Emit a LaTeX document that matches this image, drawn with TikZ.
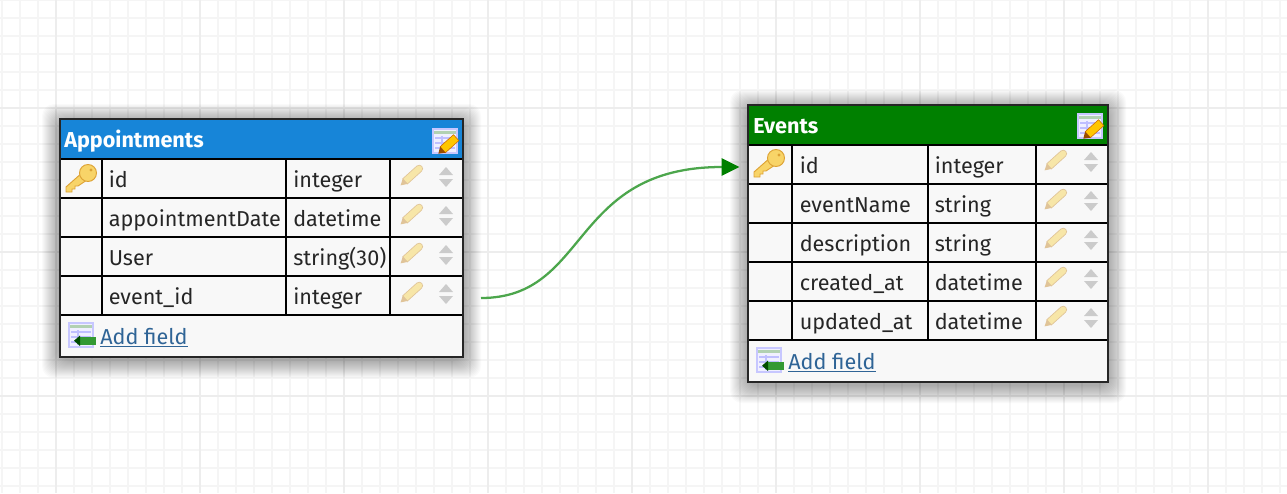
\documentclass[tikz,border=0pt]{standalone}
\usepackage{fontspec}
\setmainfont{Fira Sans}
\usetikzlibrary{arrows.meta}
\definecolor{minorgrid}{HTML}{F5F5F5}
\definecolor{majorgrid}{HTML}{EDEDED}
\definecolor{rowfill}{HTML}{F8F8F8}
\definecolor{apptblue}{HTML}{1785D8}
\definecolor{eventgreen}{HTML}{008000}
\definecolor{linkblue}{HTML}{2F6496}
\definecolor{keygold}{HTML}{F8D468}
\definecolor{keyedge}{HTML}{DDA235}
\definecolor{pencilfill}{HTML}{F7E6A8}
\definecolor{pencilwood}{HTML}{E0C498}
\definecolor{sortgrey}{HTML}{CBCBCB}
\tikzset{
  fieldtext/.style={anchor=base west, inner sep=0pt, font=\fontsize{16.2}{18}\selectfont, text=black!85},
  titletext/.style={anchor=base west, inner sep=0pt, font=\fontsize{16.2}{18}\selectfont\bfseries, text=white},
  addtext/.style={anchor=base west, inner sep=0pt, font=\fontsize{16.2}{18}\selectfont, text=linkblue},
  relation/.style={draw=eventgreen!70, line width=1.7pt, -{Triangle[length=13.5pt,width=13pt,fill=eventgreen,color=eventgreen]}},
  pics/keyicon/.style={code={
    \fill[keygold, draw=keyedge, line width=0.7pt] (2,-7) -- (-15,8) -- (-15,13) -- (-9,13) -- (-9,10) -- (-6,10) -- (-6,7) -- (-3,7) -- (6,1) -- cycle;
    \fill[keygold, draw=keyedge, line width=0.7pt] (7,-6) circle (8.5);
    \fill[keyedge] (10,-9) circle (1.6);
  }},
  pics/pencilicon/.style={code={
    \begin{scope}[rotate=42]
    \fill[pencilfill, draw=pencilwood, line width=0.5pt] (-8,-3.5) -- (11,-3.5) arc[start angle=-90, end angle=90, radius=3.5] -- (-8,3.5) -- cycle;
    \fill[pencilwood] (-8,-3.5) -- (-14,0) -- (-8,3.5) -- cycle;
    \end{scope}
  }},
  pics/sorticon/.style={code={
    \fill[sortgrey] (-7,-2) -- (0,-10) -- (7,-2) -- cycle;
    \fill[sortgrey] (-7,2) -- (0,10) -- (7,2) -- cycle;
  }},
  pics/sheeticon/.style={code={
    \fill[blue!6, draw=blue!22, line width=0.8pt] (-12,-12) rectangle (12,12);
    \fill[green!40!black!30] (-11,-10) rectangle (11,-7.5);
    \foreach \yy in {-3,2,7} \draw[blue!25, line width=1.2pt] (-10,\yy) -- (10,\yy);
    \draw[blue!25, line width=1.2pt] (-3,-5) -- (-3,10);
  }},
  pics/editicon/.style={code={
    \pic {sheeticon};
    \begin{scope}[shift={(3,4)}, rotate=42]
    \fill[orange!45!yellow, draw=orange!80!black, line width=0.4pt] (-7,-4) -- (11,-4) -- (11,4) -- (-7,4) -- cycle;
    \fill[orange!60!black] (-7,-4) -- (-13,0) -- (-7,4) -- cycle;
    \end{scope}
  }},
  pics/addicon/.style={code={
    \pic {sheeticon};
    \fill[green!50!black!80] (-2,2) rectangle (15,9.5);
    \fill[green!30!black] (-7,5.7) -- (-1,0.5) -- (-1,11) -- cycle;
  }},
}
\begin{document}
\begin{tikzpicture}[x=0.75pt, y=-0.75pt]
\useasboundingbox (0,0) rectangle (1287,493);
\fill[white] (0,0) rectangle (1287,493);
% background grid
\foreach \gx in {2,20,...,1286} \draw[minorgrid, line width=1.5pt] (\gx,0) -- (\gx,493);
\foreach \gy in {0,18,...,492} \draw[minorgrid, line width=1.5pt] (0,\gy) -- (1287,\gy);
\foreach \gx in {56,200,...,1286} \draw[majorgrid, line width=1.5pt] (\gx,0) -- (\gx,493);
\foreach \gy in {108,252,396} \draw[majorgrid, line width=1.5pt] (0,\gy) -- (1287,\gy);
% shadows
\foreach \sd in {1,2,...,18} {
  \fill[black, opacity=0.018, rounded corners=9pt] (60-\sd,119-\sd+3) rectangle (463+\sd,357+\sd+3);
  \fill[black, opacity=0.018, rounded corners=9pt] (748-\sd,105-\sd+3) rectangle (1108+\sd,382+\sd+3);
}
% Appointments
\fill[rowfill] (60,119) rectangle (463,357);
\fill[apptblue] (60,119) rectangle (463,158);
\draw[black, line width=1.5pt] (60,158.5) -- (463,158.5) (60,197.5) -- (463,197.5) (60,236.5) -- (463,236.5) (60,275.5) -- (463,275.5) (60,314.5) -- (463,314.5);
\draw[black, line width=1.5pt] (102,158) -- (102,314.5) (286,158) -- (286,314.5) (390,158) -- (390,314.5);
\draw[black!85, line width=0.8pt] (60,119) rectangle (463,357);
\node[titletext] (apptTitle) at (64,147) {Appointments};
\pic at (445,141) {editicon};
\pic at (81,179) {keyicon};
\node[fieldtext] (apptId) at (108.5,187) {id};
\node[fieldtext] (apptIdType) at (293,187) {integer};
\node[fieldtext] (apptDate) at (108.5,226) {appointmentDate};
\node[fieldtext] (apptDateType) at (293,226) {datetime};
\node[fieldtext] (apptUser) at (108.5,265) {User};
\node[fieldtext] (apptUserType) at (293,265) {string(30)};
\node[fieldtext] (apptEvent) at (108.5,304) {event\_id};
\node[fieldtext] (apptEventType) at (293,304) {integer};
\foreach \ry in {176,215,254,293} {
  \pic at (411,\ry) {pencilicon};
  \pic at (446,\ry+1) {sorticon};
}
\pic at (81,335) {addicon};
\node[addtext] (apptAdd) at (100,344) {\underline{Add field}};
% Events
\fill[rowfill] (748,105) rectangle (1108,382);
\fill[eventgreen] (748,105) rectangle (1108,144);
\draw[black, line width=1.5pt] (748,144.5) -- (1108,144.5) (748,183.5) -- (1108,183.5) (748,222.5) -- (1108,222.5) (748,261.5) -- (1108,261.5) (748,300.5) -- (1108,300.5) (748,339.5) -- (1108,339.5);
\draw[black, line width=1.5pt] (792,144) -- (792,339.5) (928,144) -- (928,339.5) (1036,144) -- (1036,339.5);
\draw[black!85, line width=0.8pt] (748,105) rectangle (1108,382);
\node[titletext] (eventsTitle) at (753,133) {Events};
\pic at (1090,126) {editicon};
\pic at (769,164) {keyicon};
\node[fieldtext] (eventsId) at (799.5,173) {id};
\node[fieldtext] (eventsIdType) at (934.5,173) {integer};
\node[fieldtext] (eventsName) at (799.5,212) {eventName};
\node[fieldtext] (eventsNameType) at (934.5,212) {string};
\node[fieldtext] (eventsDesc) at (799.5,251) {description};
\node[fieldtext] (eventsDescType) at (934.5,251) {string};
\node[fieldtext] (eventsCreated) at (799.5,290) {created\_at};
\node[fieldtext] (eventsCreatedType) at (934.5,290) {datetime};
\node[fieldtext] (eventsUpdated) at (799.5,329) {updated\_at};
\node[fieldtext] (eventsUpdatedType) at (934.5,329) {datetime};
\foreach \ry in {161,200,239,278,317} {
  \pic at (1055,\ry) {pencilicon};
  \pic at (1091,\ry+1) {sorticon};
}
\pic at (769,360) {addicon};
\node[addtext] (eventsAdd) at (788,369) {\underline{Add field}};
% relation
\coordinate (apptOut) at (481,298);
\coordinate (eventsIn) at (739.5,167);
\draw[relation] (apptOut) .. controls (590,298) and (569,167) .. (eventsIn);
\end{tikzpicture}
\end{document}
